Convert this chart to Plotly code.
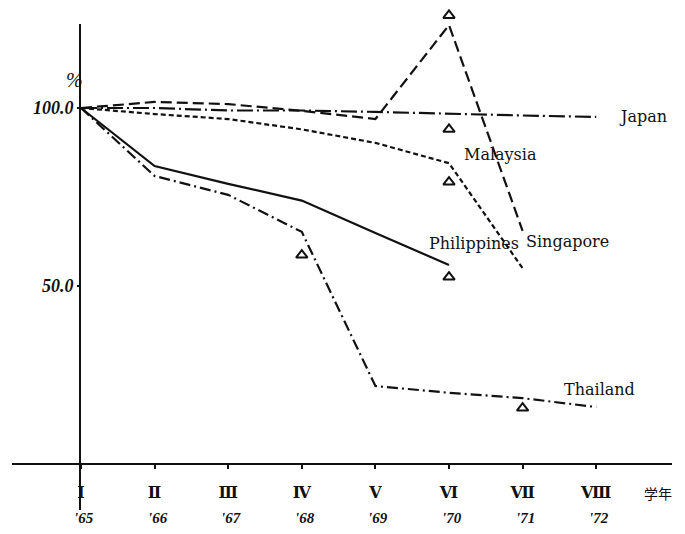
import plotly.graph_objects as go

# ---- data ----
stages = ["Ⅰ", "Ⅱ", "Ⅲ", "Ⅳ", "Ⅴ", "Ⅵ", "Ⅶ", "Ⅷ"]
years = ["'65", "'66", "'67", "'68", "'69", "'70", "'71", "'72"]
x_idx = list(range(len(stages)))

japan = [100.0, 100.0, 99.3, 99.3, 98.9, 98.3, 97.9, 97.5]
singapore = [100.0, 101.7, 101.1, 99.2, 96.9, 123.3, 65.5]
malaysia = [100.0, 98.3, 96.9, 94.0, 90.2, 84.5, 55.0]
philippines = [100.0, 83.7, 78.7, 74.0, 64.9, 55.9]
thailand = [100.0, 80.9, 75.6, 65.2, 21.9, 20.0, 18.5, 16.0]

tri_x = [5, 5, 5, 5, 3, 6]
tri_y = [126.0, 94.0, 79.2, 52.5, 58.7, 15.7]

# ---- figure geometry (page body adds an 8px offset) ----
OFF = 8
W, H = 685 - OFF, 534 - OFF
X_LEFT_PX, X_RIGHT_PX = 12 - OFF, 672 - OFF   # extent of the x axis line
Y_TOP_PX, Y_BOT_PX = 24 - OFF, 510 - OFF      # extent of the y axis line
I_PX, STEP_PX = 81 - OFF, 73.6                # pixel of stage I, pixels per stage
Y0_PX, PX_PER_UNIT = 464 - OFF, 3.56          # pixel of 0 %, pixels per percent


def xd(px):
    return (px - I_PX) / STEP_PX


def yd(py):
    return (Y0_PX - py) / PX_PER_UNIT


x_range = [xd(X_LEFT_PX), xd(X_RIGHT_PX)]
y_range = [yd(Y_BOT_PX), yd(0)]

serif = "Liberation Serif, DejaVu Serif, serif"
wide_serif = "DejaVu Serif, Liberation Serif, serif"
black = "#111111"

fig = go.Figure()


def add_line(y, dash, name):
    fig.add_trace(go.Scatter(
        x=x_idx[:len(y)], y=y, mode="lines", name=name,
        line=dict(color=black, width=2.2, dash=dash),
        cliponaxis=False, showlegend=False))


add_line(singapore, "11px,5px", "Singapore")
add_line(malaysia, "5px,3px", "Malaysia")
add_line(japan, "16px,4px,2px,4px", "Japan")
add_line(philippines, "solid", "Philippines")
add_line(thailand, "11px,4px,2px,4px", "Thailand")

fig.add_trace(go.Scatter(
    x=tri_x, y=tri_y, mode="markers",
    marker=dict(symbol="triangle-up-open", size=10, color=black,
                line=dict(width=2, color=black)),
    cliponaxis=False, showlegend=False))

# ---- y axis line (shorter than the plotting area) ----
fig.add_shape(type="line", xref="x", yref="y",
              x0=xd(80 - OFF), x1=xd(80 - OFF), y0=yd(Y_BOT_PX), y1=yd(Y_TOP_PX),
              line=dict(color=black, width=2))

# ---- series labels, placed relative to each line's end point ----
labels = [
    ("Japan", len(japan) - 1, japan[-1], 21, 0),
    ("Malaysia", 5, malaysia[5], 13, 9),
    ("Philippines", len(philippines) - 1, philippines[-1], -22, 22),
    ("Singapore", len(singapore) - 1, singapore[-1], 1, -11),
    ("Thailand", len(thailand) - 1, thailand[-1], -34, 18),
]
for text, xi, yv, dx, dy in labels:
    fig.add_annotation(x=xi, y=yv, xref="x", yref="y", text=text,
                       showarrow=False, xanchor="left", yanchor="middle",
                       xshift=dx, yshift=dy,
                       font=dict(family=wide_serif, size=16, color=black))

# year labels under the stage numerals
for xi, yr in zip(x_idx, years):
    fig.add_annotation(x=xi, y=(H - (518 - OFF)) / H, xref="x", yref="paper",
                       text="<b><i>" + yr + "</i></b>", showarrow=False,
                       xanchor="center", yanchor="middle", xshift=3,
                       font=dict(family=serif, size=15, color=black))

# "%" unit label and school-year label
fig.add_annotation(x=xd(74 - OFF), y=yd(80 - OFF), xref="x", yref="y",
                   text="<i>%</i>", showarrow=False,
                   font=dict(family=serif, size=20, color=black))
fig.add_annotation(x=xd(658 - OFF), y=(H - (493 - OFF)) / H, xref="x", yref="paper",
                   text="学年", showarrow=False, xanchor="center", yanchor="middle",
                   font=dict(family="Noto Sans CJK JP", size=14, color=black))

fig.update_layout(
    width=W, height=H,
    margin=dict(l=0, r=0, t=0, b=0),
    paper_bgcolor="white", plot_bgcolor="white",
    xaxis=dict(
        domain=[X_LEFT_PX / W, X_RIGHT_PX / W],
        range=x_range, anchor="free", position=(H - Y0_PX) / H,
        showgrid=False, zeroline=False, showline=True, linecolor=black, linewidth=2,
        tickmode="array", tickvals=x_idx,
        ticktext=["<b>" + s + "</b>" for s in stages],
        ticks="outside", ticklen=4, tickwidth=2, tickcolor=black,
        ticklabelstandoff=10,
        tickfont=dict(family=serif + ", Noto Sans CJK JP", size=16, color=black),
    ),
    yaxis=dict(
        domain=[(H - Y_BOT_PX) / H, 1],
        range=y_range, anchor="free", position=(80 - OFF) / W,
        showgrid=False, zeroline=False, showline=False,
        tickmode="array", tickvals=[50, 100],
        ticktext=["<b><i>50.0</i></b>", "<b><i>100.0</i></b>"],
        ticks="outside", ticklen=3, tickwidth=2, tickcolor=black,
        tickfont=dict(family=serif, size=18, color=black),
    ),
)

fig.write_html("out.html")
